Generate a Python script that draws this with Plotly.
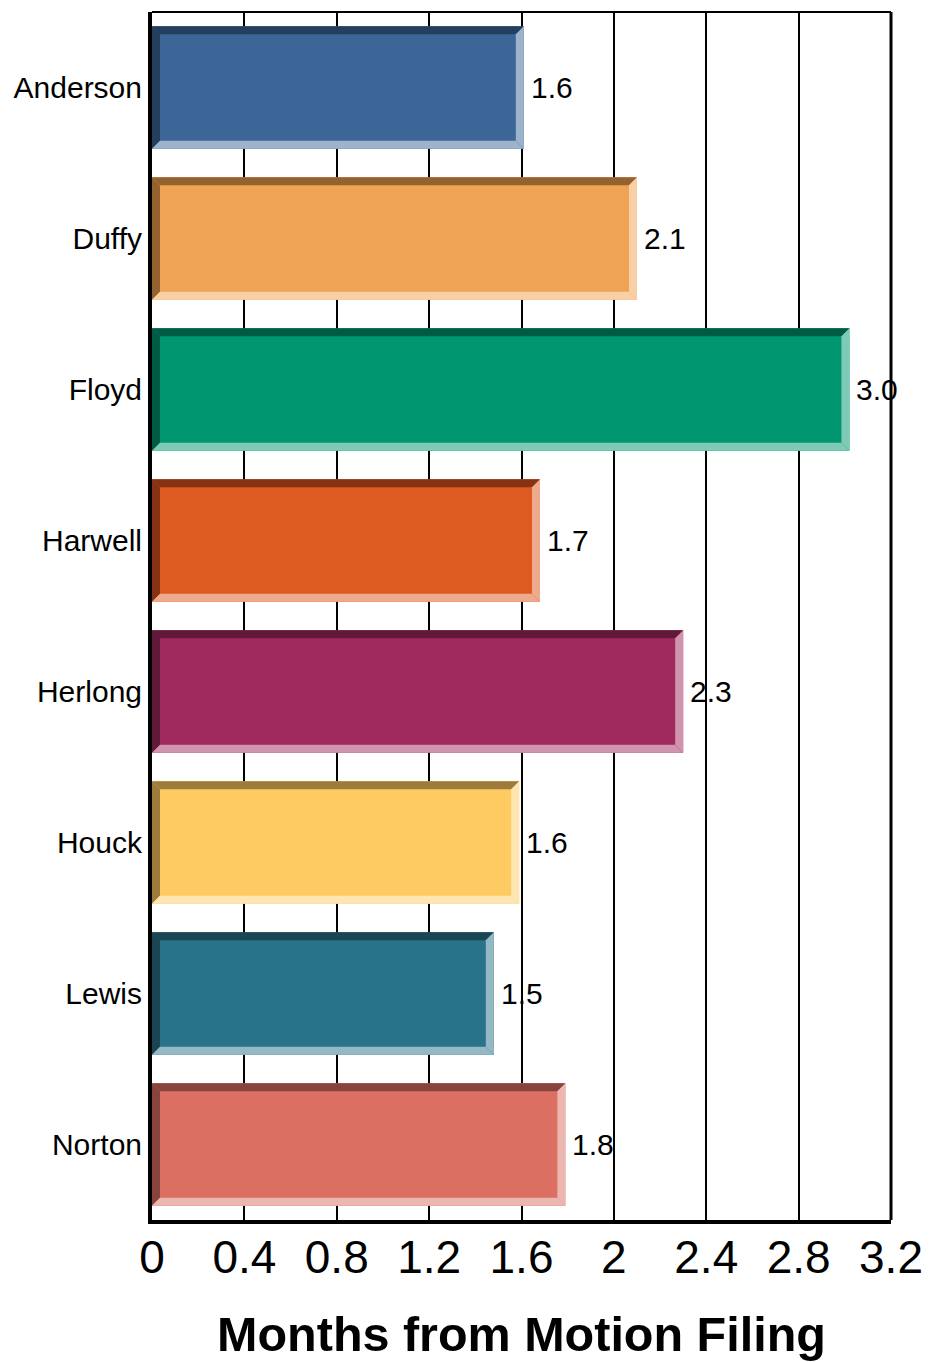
import plotly.graph_objects as go

judges = ["Anderson", "Duffy", "Floyd", "Harwell", "Herlong", "Houck", "Lewis", "Norton"]
months = [1.61, 2.10, 3.02, 1.68, 2.30, 1.59, 1.48, 1.79]
value_labels = ["1.6", "2.1", "3.0", "1.7", "2.3", "1.6", "1.5", "1.8"]
x_ticks = [0, 0.4, 0.8, 1.2, 1.6, 2.0, 2.4, 2.8, 3.2]
x_tick_labels = ["0", "0.4", "0.8", "1.2", "1.6", "2", "2.4", "2.8", "3.2"]

main_colors = ["#3C6697", "#EFA354", "#009670", "#DD5A20", "#A02A5E", "#FDCB62", "#28738A", "#DA6F62"]
dark_colors = ["#243E5E", "#94622F", "#005B44", "#883214", "#601938", "#9C7B3B", "#1A4653", "#87443D"]
light_colors = ["#9DB2CB", "#F9D0A6", "#7FCAB6", "#EEAA8C", "#D094AE", "#FEE5B1", "#94B9C4", "#EDB7B1"]

FONT = "Liberation Sans, Arial, sans-serif"
W, H = 929, 1362
L, R, T, B = 152, 38, 12, 142
XMAX = 3.2
bar_w = 0.81

ypos = list(range(len(judges)))

fig = go.Figure()
fig.add_trace(go.Bar(
    x=months, y=ypos, orientation="h", width=bar_w,
    marker=dict(color=main_colors, line=dict(width=0)),
    hoverinfo="skip", showlegend=False,
))

# bevel sizes in data units (approx 8 px)
px_per_x = (W - L - R) / XMAX
px_per_y = (H - T - B) / len(judges)
dx = 8 / px_per_x
dy = 8 / px_per_y

shapes = []
for i, v in enumerate(months):
    y0 = i - bar_w / 2  # top (reversed axis)
    y1 = i + bar_w / 2  # bottom
    x0, x1 = 0.0, v
    shapes.append(dict(type="path", xref="x", yref="y", layer="above", line=dict(width=0),
                       fillcolor=dark_colors[i],
                       path=f"M{x0},{y0} L{x1},{y0} L{x1-dx},{y0+dy} L{x0+dx},{y0+dy} Z"))
    shapes.append(dict(type="path", xref="x", yref="y", layer="above", line=dict(width=0),
                       fillcolor=dark_colors[i],
                       path=f"M{x0},{y0} L{x0+dx},{y0+dy} L{x0+dx},{y1-dy} L{x0},{y1} Z"))
    shapes.append(dict(type="path", xref="x", yref="y", layer="above", line=dict(width=0),
                       fillcolor=light_colors[i],
                       path=f"M{x0},{y1} L{x0+dx},{y1-dy} L{x1-dx},{y1-dy} L{x1},{y1} Z"))
    shapes.append(dict(type="path", xref="x", yref="y", layer="above", line=dict(width=0),
                       fillcolor=light_colors[i],
                       path=f"M{x1},{y0} L{x1},{y1} L{x1-dx},{y1-dy} L{x1-dx},{y0+dy} Z"))

shapes.append(dict(type="line", xref="paper", yref="paper", x0=0, x1=1, y0=1, y1=1,
                   line=dict(color="black", width=2), layer="above"))
shapes.append(dict(type="line", xref="paper", yref="paper", x0=1, x1=1, y0=0, y1=1,
                   line=dict(color="black", width=3), layer="above"))

annotations = []
for i, v in enumerate(months):
    annotations.append(dict(x=v, y=i, xref="x", yref="y", text=value_labels[i],
                            showarrow=False, xanchor="left", yanchor="middle", xshift=5,
                            font=dict(family=FONT, size=30, color="black")))

fig.update_layout(
    width=W, height=H,
    margin=dict(l=L, r=R, t=T, b=B, pad=0, autoexpand=False),
    paper_bgcolor="white", plot_bgcolor="white",
    shapes=shapes, annotations=annotations,
    xaxis=dict(
        range=[0, XMAX], tickvals=x_ticks, ticktext=x_tick_labels,
        automargin=False,
        showgrid=True, gridcolor="black", gridwidth=2,
        showline=True, linecolor="black", linewidth=4,
        ticks="", ticklabelstandoff=-6,
        tickfont=dict(family=FONT, size=46, color="black"),
        zeroline=False,
        title=dict(text="<b>Months from Motion Filing</b>", standoff=36,
                   font=dict(family=FONT, size=48.5, color="black")),
    ),
    yaxis=dict(
        range=[len(judges) - 0.5, -0.5], tickvals=ypos, ticktext=judges,
        automargin=False,
        showgrid=False, showline=True, linecolor="black", linewidth=4,
        ticks="", zeroline=False,
        tickfont=dict(family=FONT, size=30, color="black"),
    ),
)

fig.write_html("out.html", config={"displayModeBar": False},
               post_script="document.body.style.margin='0px';document.body.style.overflow='hidden';")
